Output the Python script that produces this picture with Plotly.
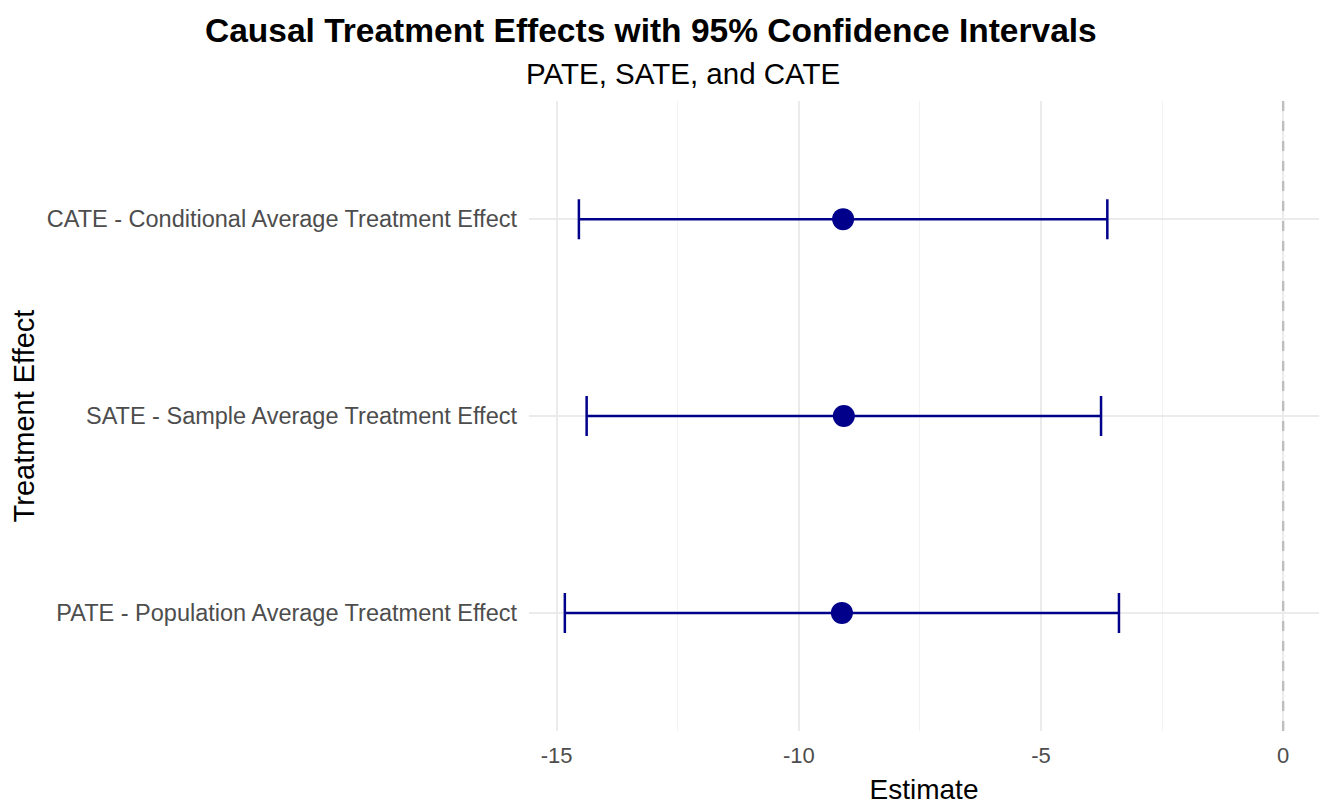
import plotly.graph_objects as go

categories = [
    "PATE - Population Average Treatment Effect",
    "SATE - Sample Average Treatment Effect",
    "CATE - Conditional Average Treatment Effect",
]
estimates = [-9.11, -9.07, -9.085]
ci_lower = [-14.83, -14.38, -14.54]
ci_upper = [-3.39, -3.76, -3.63]

x_ticks = [-15, -10, -5, 0]
x_tick_labels = ["-15", "-10", "-5", "0"]

NAVY = "#00008B"
FONT = "Liberation Sans, Arial, sans-serif"

err_plus = [u - e for u, e in zip(ci_upper, estimates)]
err_minus = [e - l for e, l in zip(estimates, ci_lower)]

fig = go.Figure()
fig.add_trace(go.Scatter(
    x=estimates, y=categories, mode="markers",
    marker=dict(color=NAVY, size=22),
    error_x=dict(type="data", symmetric=False, array=err_plus, arrayminus=err_minus,
                 color=NAVY, thickness=2.5, width=20),
    showlegend=False,
))

fig.add_shape(type="line", xref="x", yref="paper", x0=0, x1=0, y0=0, y1=1,
              line=dict(color="#BEBEBE", width=2.4, dash="10px,10px"), layer="above")

fig.update_layout(
    width=1335, height=811,
    margin=dict(l=521, r=24, t=93, b=88),
    plot_bgcolor="white", paper_bgcolor="white",
    font=dict(family=FONT, color="#000000"),
    xaxis=dict(
        range=[-15.57, 0.74], tickvals=x_ticks, ticktext=x_tick_labels,
        showgrid=True, gridcolor="#EBEBEB", gridwidth=1.5, zeroline=False,
        tickfont=dict(size=22, color="#4D4D4D"), ticks="", showline=False,
        ticklabelstandoff=9, automargin=False,
        minor=dict(dtick=2.5, tick0=0, showgrid=True, gridcolor="#F2F2F2", gridwidth=1),
        title=dict(text="Estimate", font=dict(size=28, color="#000000"), standoff=12),
    ),
    yaxis=dict(
        categoryorder="array", categoryarray=categories,
        range=[-0.6, 2.6],
        showgrid=True, gridcolor="#EBEBEB", gridwidth=1.5, zeroline=False,
        tickfont=dict(size=23.5, color="#4D4D4D"), ticks="", showline=False,
        ticklabelstandoff=11, automargin=False,
        title=dict(text="Treatment Effect", font=dict(size=29, color="#000000"), standoff=13),
    ),
    annotations=[
        dict(text="<b>Causal Treatment Effects with 95% Confidence Intervals</b>",
             xref="paper", yref="paper", x=(651 - 529) / 790, y=1, yshift=71,
             xanchor="center", yanchor="middle", showarrow=False,
             font=dict(size=33.5, color="#000000")),
        dict(text="PATE, SATE, and CATE",
             xref="paper", yref="paper", x=(683 - 529) / 790, y=1, yshift=28,
             xanchor="center", yanchor="middle", showarrow=False,
             font=dict(size=29.5, color="#000000")),
    ],
)

fig.write_html("out.html")
